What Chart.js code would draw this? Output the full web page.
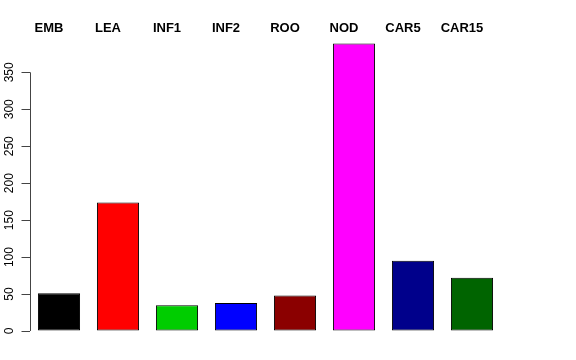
<!DOCTYPE html>
<html>
<head>
<meta charset="utf-8">
<script src="https://cdn.jsdelivr.net/npm/chart.js@4/dist/chart.umd.min.js"></script>
<style>
  body { margin: 0; background: #fff; }
  canvas { display: block; }
</style>
</head>
<body>
<canvas id="chart" width="576" height="360"></canvas>
<script>
// ---------- Data ----------
const categories = ['EMB', 'LEA', 'INF1', 'INF2', 'ROO', 'NOD', 'CAR5', 'CAR15'];
const counts = [51, 174, 35, 38, 48, 389, 95, 72];
const barColors = ['#000000', '#ff0000', '#00cd00', '#0000ff', '#8b0000', '#ff00ff', '#00008b', '#006400'];
const yTicks = [0, 50, 100, 150, 200, 250, 300, 350];

// ---------- R-style axis + labels ----------
const rStyle = {
  id: 'rStyle',
  afterDraw(chart) {
    const ctx = chart.ctx;
    const y = chart.scales.y;
    const area = chart.chartArea;
    const x0 = Math.round(area.left) + 0.5;

    ctx.save();
    // axis line only spans first..last tick
    ctx.strokeStyle = '#444';
    ctx.lineWidth = 1;
    ctx.beginPath();
    ctx.moveTo(x0, y.getPixelForValue(yTicks[0]));
    ctx.lineTo(x0, y.getPixelForValue(yTicks[yTicks.length - 1]));
    ctx.stroke();

    // rotated tick labels
    ctx.fillStyle = '#000';
    ctx.font = '12px "Liberation Sans", Arial, sans-serif';
    ctx.textAlign = 'center';
    ctx.textBaseline = 'middle';
    yTicks.forEach(v => {
      ctx.save();
      ctx.translate(10, y.getPixelForValue(v));
      ctx.rotate(-Math.PI / 2);
      ctx.fillText(String(v), 0, 0);
      ctx.restore();
    });

    // category names across the top
    ctx.font = 'bold 13px "Liberation Sans", Arial, sans-serif';
    ctx.textBaseline = 'alphabetic';
    const bars = chart.getDatasetMeta(0).data;
    bars.forEach((bar, i) => {
      ctx.fillText(categories[i], bar.x - 10, 32);
    });
    ctx.restore();
  }
};

new Chart(document.getElementById('chart'), {
  type: 'bar',
  data: {
    labels: categories,
    datasets: [{
      data: counts,
      backgroundColor: barColors,
      borderColor: '#000',
      borderWidth: 1,
      borderSkipped: false,
      barPercentage: 0.714,
      categoryPercentage: 1
    }]
  },
  options: {
    responsive: false,
    animation: false,
    layout: { padding: { left: 0, right: 74.5, top: 32, bottom: 17.5 } },
    plugins: { legend: { display: false }, tooltip: { enabled: false } },
    scales: {
      x: { display: false },
      y: {
        min: -15.56,
        max: 404.56,
        afterBuildTicks: scale => { scale.ticks = yTicks.map(v => ({ value: v })); },
        afterFit: scale => { scale.width = 29.5; },
        ticks: { display: false },
        border: { display: false },
        grid: { drawOnChartArea: false, drawTicks: true, tickLength: 8, color: '#444' }
      }
    }
  },
  plugins: [rStyle]
});
</script>
</body>
</html>
